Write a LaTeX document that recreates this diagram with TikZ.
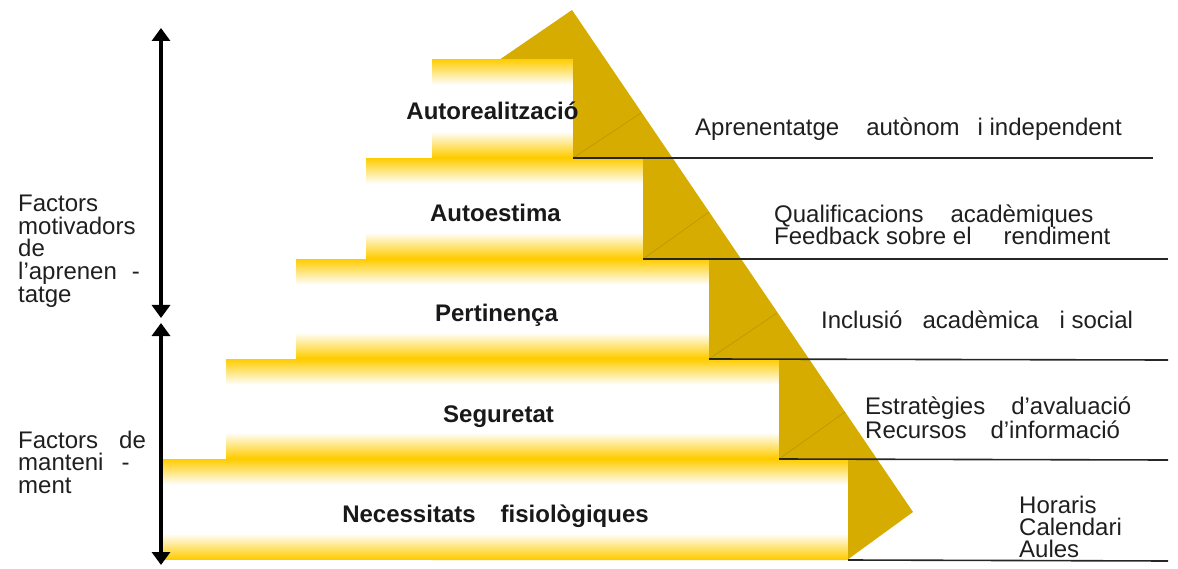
\documentclass[tikz,border=0pt]{standalone}
\usepackage{fontspec}
\setmainfont{Liberation Sans}
\usetikzlibrary{arrows.meta}
\definecolor{boxgold}{RGB}{255,204,0}
\definecolor{pyrgold}{RGB}{214,172,0}
\definecolor{pyrline}{RGB}{188,150,0}
\begin{document}
\begin{tikzpicture}[x=1pt,y=-1pt,
  stepbox/.style={anchor=north west, inner sep=0pt, outer sep=0pt, fill=white, draw=none,
    path picture={
      \foreach \i in {0,...,25} {
        \pgfmathsetmacro\stepfade{100-3.9*\i}
        \fill[boxgold!\stepfade!white]
          ([yshift={-\i pt}]path picture bounding box.north west) rectangle
          ([yshift={-\i pt-1.3pt}]path picture bounding box.north east);
        \fill[boxgold!\stepfade!white]
          ([yshift={\i pt}]path picture bounding box.south west) rectangle
          ([yshift={\i pt+1.3pt}]path picture bounding box.south east);
      }
    }},
  steplabel/.style={anchor=base, inner sep=0pt, font=\fontsize{24}{22.5}\selectfont\bfseries, text=black!90},
  note/.style={anchor=base west, align=left, inner sep=0pt, font=\fontsize{24}{22.5}\selectfont, text=black!88},
  rule/.style={line width=1.6pt, draw=black!85},
  facet/.style={line width=0.6pt, draw=pyrline},
  bigarrow/.style={line width=4pt, {Triangle[width=18pt,length=13pt]}-{Triangle[width=18pt,length=13pt]}}
]
\useasboundingbox (0,0) rectangle (1178,569);
% pyramid face
\fill[pyrgold] (572,10) -- (913,512) -- (847,560) -- (432,560) -- (432,106) -- cycle;
% steps
\node[stepbox, minimum width=141pt, minimum height=99pt] (b1) at (432,59) {};
\node[stepbox, minimum width=277pt, minimum height=101pt] (b2) at (366,158) {};
\node[stepbox, minimum width=413pt, minimum height=100pt] (b3) at (296,259) {};
\node[stepbox, minimum width=553pt, minimum height=100pt] (b4) at (226,359) {};
\node[stepbox, minimum width=685pt, minimum height=101pt] (b5) at (163,459) {};
% facet lines
\draw[facet] (b1.south east) -- (641,113);
\draw[facet] (b2.south east) -- (709,212);
\draw[facet] (b3.south east) -- (777,313);
\draw[facet] (b4.south east) -- (845,412);
% rules
\draw[rule] (b1.south east) -- (1153,158);
\draw[rule] (b2.south east) -- (1168,259);
\draw[rule] (b3.south east) -- (1168,360);
\draw[rule] (b4.south east) -- (1168,460);
\draw[rule] (b5.south east) -- (1168,561);
% step labels
\node[steplabel] (l1) at (492.5,120) {Autorealització};
\node[steplabel] (l2) at (495.5,222) {Autoestima};
\node[steplabel] (l3) at (496.5,322) {Pertinença};
\node[steplabel] (l4) at (498.5,422) {Seguretat};
\node[steplabel] (l5) at (495.5,522) {Necessitats\hspace{25pt}fisiològiques};
% right notes (base anchor = baseline of last line)
\node[note] (n1) at (695,136) {Aprenentatge\hspace{27pt}autònom\hspace{18pt}i independent};
\node[note] (n2) at (774,245) {Qualificacions\hspace{27pt}acadèmiques\\Feedback sobre el\hspace{32pt}rendiment};
\node[note] (n3) at (821,329) {Inclusió\hspace{20pt}acadèmica\hspace{21pt}i social};
\node[note] (n4) at (865,438) {Estratègies\hspace{26pt}d’avaluació\\Recursos\hspace{24pt}d’informació};
\node[note, font=\fontsize{24}{22}\selectfont] (n5) at (1019,557) {Horaris\\Calendari\\Aules};
% left notes
\node[note] (f1) at (18,302) {Factors\\motivadors\\de\\l’aprenen\hspace{15pt}-\\tatge};
\node[note] (f2) at (18,493) {Factors\hspace{21pt}de\\manteni\hspace{18pt}-\\ment};
% arrows
\coordinate (a1) at (161,28);
\coordinate (a2) at (161,318);
\coordinate (a3) at (161,323);
\coordinate (a4) at (161,565);
\draw[bigarrow] (a1) -- (a2);
\draw[bigarrow] (a3) -- (a4);
\end{tikzpicture}
\end{document}
